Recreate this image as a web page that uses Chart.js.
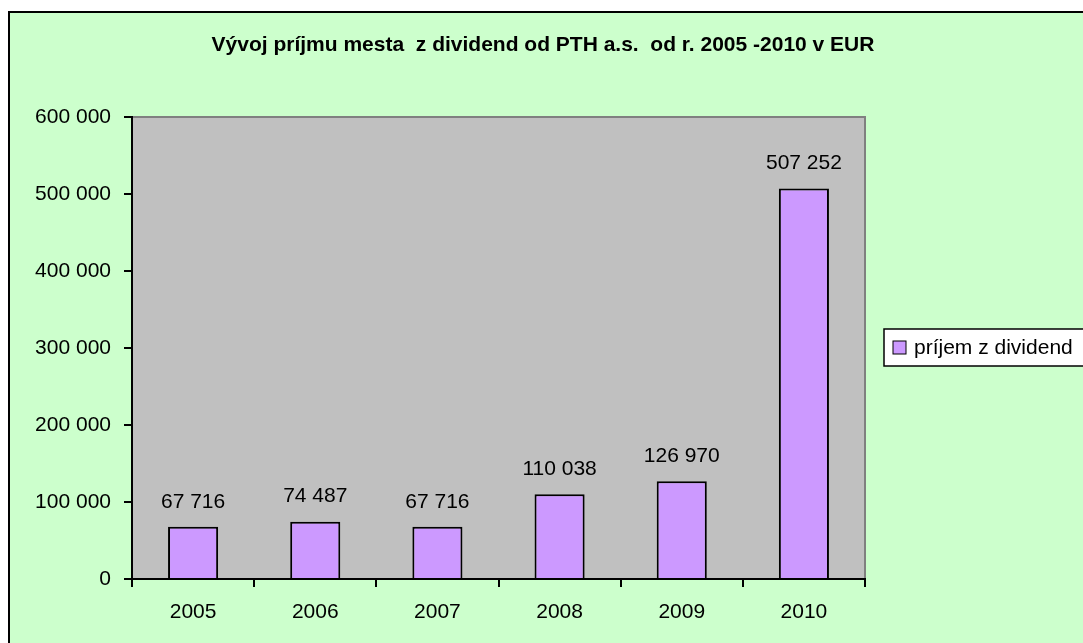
<!DOCTYPE html>
<html>
<head>
<meta charset="utf-8">
<script src="https://cdn.jsdelivr.net/npm/chart.js@4"></script>
<style>
  body { margin: 0; background: #fff; }
  #wrap { width: 1083px; height: 643px; }
</style>
</head>
<body>
<div id="wrap"><canvas id="dividendChart" width="1083" height="643"></canvas></div>
<script>
// Chart data
const years = ['2005', '2006', '2007', '2008', '2009', '2010'];
const dividendIncome = [67716, 74487, 67716, 110038, 126970, 507252];
const seriesLabel = 'príjem z dividend';
const chartTitle = 'Vývoj príjmu mesta  z dividend od PTH a.s.  od r. 2005 -2010 v EUR';
const yMax = 600000;
const yStep = 100000;

const FONT = '"Liberation Sans", Arial, sans-serif';

// 67716 -> "67 716"
function fmt(n) {
    return String(n).replace(/\B(?=(\d{3})+(?!\d))/g, ' ');
}

// Green frame + grey plot area
const backgroundPlugin = {
    id: 'background',
    beforeDraw(chart) {
        const ctx = chart.ctx;
        const a = chart.chartArea;
        ctx.save();
        ctx.fillStyle = '#ffffff';
        ctx.fillRect(0, 0, chart.width, chart.height);
        ctx.fillStyle = '#CCFFCC';
        ctx.fillRect(9, 12, chart.width + 20, chart.height + 20);
        ctx.strokeStyle = '#000000';
        ctx.lineWidth = 2;
        ctx.strokeRect(9, 12, chart.width + 20, chart.height + 20);

        ctx.fillStyle = '#C0C0C0';
        ctx.fillRect(a.left, a.top, a.right - a.left, a.bottom - a.top);
        ctx.strokeStyle = '#808080';
        ctx.lineWidth = 2;
        ctx.beginPath();
        ctx.moveTo(a.left, a.top);
        ctx.lineTo(a.right, a.top);
        ctx.lineTo(a.right, a.bottom);
        ctx.stroke();

        // title, centred on the whole frame
        ctx.fillStyle = '#000000';
        ctx.font = 'bold 21px ' + FONT;
        ctx.textAlign = 'center';
        ctx.textBaseline = 'middle';
        ctx.fillText(chartTitle, 543, 45);
        ctx.restore();
    }
};

// Value labels above the bars
const valueLabelPlugin = {
    id: 'valueLabels',
    afterDatasetsDraw(chart) {
        const ctx = chart.ctx;
        const meta = chart.getDatasetMeta(0);
        ctx.save();
        ctx.font = '21px ' + FONT;
        ctx.fillStyle = '#000000';
        ctx.textAlign = 'center';
        ctx.textBaseline = 'middle';
        meta.data.forEach((bar, i) => {
            ctx.fillText(fmt(chart.data.datasets[0].data[i]), bar.x, bar.y - 25);
        });
        ctx.restore();
    }
};

// Legend box on the right
const legendBoxPlugin = {
    id: 'legendBox',
    afterDraw(chart) {
        const ctx = chart.ctx;
        const ds = chart.data.datasets[0];
        const x = chart.chartArea.right + 19;
        const y = 329;
        ctx.save();
        ctx.fillStyle = '#ffffff';
        ctx.fillRect(x, y, 250, 37);
        ctx.strokeStyle = '#000000';
        ctx.lineWidth = 1.5;
        ctx.strokeRect(x, y, 250, 37);

        ctx.fillStyle = ds.backgroundColor;
        ctx.fillRect(x + 9, y + 12, 13, 13);
        ctx.lineWidth = 1;
        ctx.strokeRect(x + 9, y + 12, 13, 13);

        ctx.fillStyle = '#000000';
        ctx.font = '21px ' + FONT;
        ctx.textAlign = 'left';
        ctx.textBaseline = 'middle';
        ctx.fillText(ds.label, x + 30, y + 19);
        ctx.restore();
    }
};

const ctx = document.getElementById('dividendChart').getContext('2d');
const chart = new Chart(ctx, {
    type: 'bar',
    data: {
        labels: years,
        datasets: [{
            label: seriesLabel,
            data: dividendIncome,
            backgroundColor: '#CC99FF',
            borderColor: '#000000',
            borderWidth: 2,
            borderSkipped: 'bottom',
            barPercentage: 0.41,
            categoryPercentage: 1
        }]
    },
    options: {
        responsive: false,
        animation: false,
        layout: {
            padding: { left: 0, right: 218, top: 117, bottom: 0 }
        },
        scales: {
            x: {
                grid: {
                    display: true,
                    drawOnChartArea: false,
                    drawTicks: true,
                    tickLength: 8,
                    color: '#000000',
                    lineWidth: 2,
                    offset: true
                },
                border: { display: true, color: '#000000', width: 2 },
                ticks: {
                    color: '#000000',
                    font: { family: FONT, size: 21 },
                    padding: 13,
                    maxRotation: 0
                },
                afterFit(scale) { scale.height = 64; }
            },
            y: {
                min: 0,
                max: yMax,
                grid: {
                    display: true,
                    drawOnChartArea: false,
                    drawTicks: true,
                    tickLength: 8,
                    color: '#000000',
                    lineWidth: 2
                },
                border: { display: true, color: '#000000', width: 2 },
                ticks: {
                    stepSize: yStep,
                    color: '#000000',
                    font: { family: FONT, size: 21 },
                    padding: 13,
                    callback: value => fmt(value)
                },
                afterFit(scale) { scale.width = 132; }
            }
        },
        plugins: {
            legend: { display: false },
            tooltip: { enabled: false },
            title: { display: false }
        }
    },
    plugins: [backgroundPlugin, valueLabelPlugin, legendBoxPlugin]
});
</script>
</body>
</html>
